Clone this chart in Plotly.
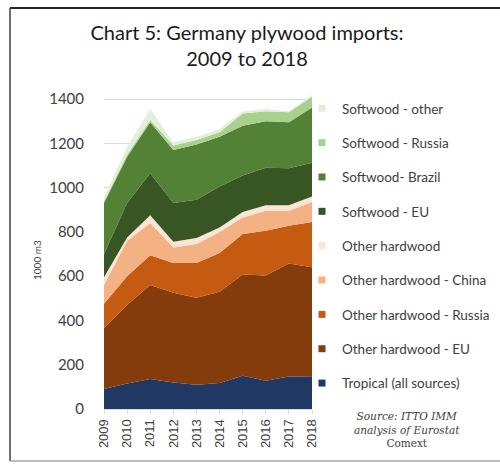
import plotly.graph_objects as go

years = [2009, 2010, 2011, 2012, 2013, 2014, 2015, 2016, 2017, 2018]
tick_labels = [str(y) for y in years]

tropical = [90, 115, 135, 120, 110, 118, 150, 128, 147, 148]
oh_eu = [276, 355, 425, 405, 392, 412, 458, 475, 510, 492]
oh_russia = [109, 130, 135, 135, 158, 175, 182, 202, 171, 205]
oh_china = [85, 160, 145, 70, 85, 95, 75, 90, 67, 90]
other_hw = [35, 15, 35, 25, 27, 20, 25, 25, 25, 25]
sw_eu = [105, 155, 190, 175, 173, 185, 165, 170, 168, 152]
sw_brazil = [230, 210, 230, 240, 250, 225, 225, 210, 207, 250]
sw_russia = [10, 10, 10, 20, 20, 20, 55, 45, 45, 48]
sw_other = [15, 35, 50, 15, 15, 15, 10, 10, 5, 10]

series = [
    ("Tropical (all sources)", tropical, "#203864"),
    ("Other hardwood - EU", oh_eu, "#843C0C"),
    ("Other hardwood - Russia", oh_russia, "#C55A11"),
    ("Other hardwood - China", oh_china, "#F4B183"),
    ("Other hardwood", other_hw, "#FBE5D6"),
    ("Softwood - EU", sw_eu, "#375623"),
    ("Softwood- Brazil", sw_brazil, "#538135"),
    ("Softwood - Russia", sw_russia, "#A9D18E"),
    ("Softwood - other", sw_other, "#E2F0D9"),
]

fig = go.Figure()
for name, vals, col in series:
    fig.add_trace(go.Scatter(
        x=years, y=vals, name=name, stackgroup="one",
        mode="none", fillcolor=col, line=dict(width=0),
        showlegend=False, hoverinfo="x+y+name",
    ))

# legend entries (small square keys), top to bottom
for name, vals, col in reversed(series):
    fig.add_trace(go.Scatter(
        x=[None], y=[None], name=name, mode="markers",
        marker=dict(symbol="square", size=7, color=col),
        legendgroup=name, showlegend=True,
    ))

W, H = 500, 464
L, R, T, B = 104, 188, 88, 55
pw, ph = W - L - R, H - T - B

def px(x):
    return (x - L) / pw

def py(y):
    return (H - B - y) / ph

fig.update_layout(
    width=W, height=H,
    margin=dict(l=L, r=R, t=T, b=B, autoexpand=False),
    paper_bgcolor="white", plot_bgcolor="white",
    font=dict(family="Lato, Open Sans, sans-serif", color="#404040"),
    title=dict(
        text="Chart 5: Germany plywood imports:<br>2009 to 2018",
        x=247 / W, xanchor="center", xref="container",
        y=1 - 40 / H, yanchor="top", yref="container",
        font=dict(size=20, color="#1a1a1a", family="Lato, Open Sans, sans-serif"),
    ),
    showlegend=True,
    legend=dict(
        traceorder="grouped", tracegroupgap=13.8,
        x=px(302), xanchor="left", y=py(93), yanchor="top",
        font=dict(size=13.5, color="#404040", family="Lato, Open Sans, sans-serif"),
        bgcolor="rgba(0,0,0,0)", itemwidth=30,
    ),
    xaxis=dict(
        range=[2009, 2018], tickmode="array", tickvals=years, ticktext=tick_labels,
        tickangle=-90, showgrid=False, showline=True, linecolor="#d9d9d9",
        ticks="outside", ticklen=4, tickcolor="#d9d9d9", automargin=False,
        tickfont=dict(size=13, color="#404040", family="Liberation Sans, Arial"),
        zeroline=False,
    ),
    yaxis=dict(
        range=[0, 1450], tickmode="array", tickvals=[0, 200, 400, 600, 800, 1000, 1200, 1400],
        showgrid=True, gridcolor="#d9d9d9", zeroline=False, showline=False,
        ticks="", ticklabelstandoff=19, automargin=False,
        tickfont=dict(size=15, color="#404040", family="Lato, Open Sans, sans-serif"),
    ),
    annotations=[
        dict(text="1000 m3", textangle=-90, x=px(37), y=py(260), xref="paper", yref="paper",
             xanchor="center", yanchor="middle", showarrow=False,
             font=dict(size=10, color="#404040", family="Lato, Open Sans, sans-serif")),
        dict(text="<i>Source: ITTO IMM<br>analysis of Eurostat</i><br>Comext",
             x=px(407), y=py(429), xref="paper", yref="paper",
             xanchor="center", yanchor="middle", showarrow=False, align="center",
             font=dict(size=10.5, color="#404040", family="DejaVu Serif, serif")),
    ],
    shapes=[
        dict(type="line", xref="paper", yref="paper", x0=px(10), x1=px(500), y0=py(8), y1=py(8),
             line=dict(color="#262626", width=2)),
        dict(type="line", xref="paper", yref="paper", x0=px(10), x1=px(10), y0=py(8), y1=py(461),
             line=dict(color="#404040", width=1.5)),
        dict(type="line", xref="paper", yref="paper", x0=px(10), x1=px(500), y0=py(461), y1=py(461),
             line=dict(color="#a6a6a6", width=1.5)),
    ],
)

fig.write_html("out.html", config={"displayModeBar": False},
               post_script="document.body.style.margin='0';")
